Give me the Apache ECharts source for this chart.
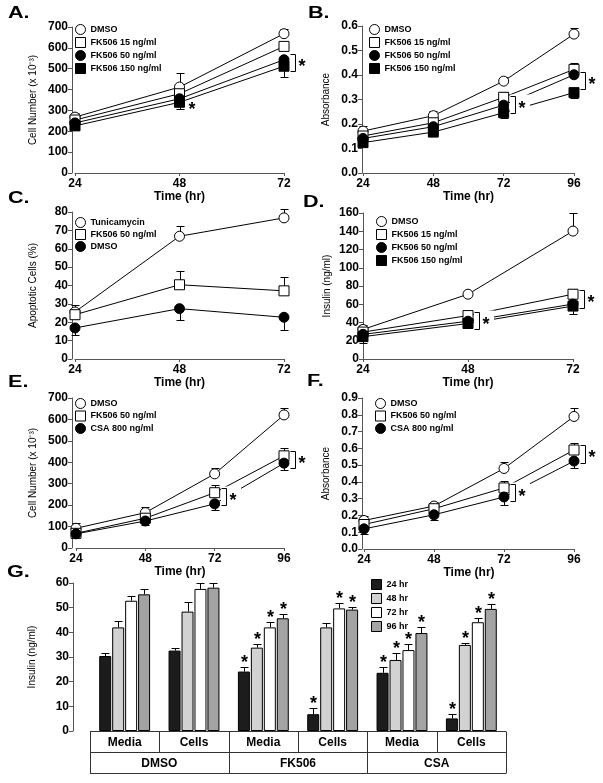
<!DOCTYPE html>
<html><head><meta charset="utf-8">
<script src="https://cdn.jsdelivr.net/npm/echarts@6/dist/echarts.min.js"></script>
<style>html,body{margin:0;padding:0;background:#fff}#c{width:603px;height:783px}</style>
</head><body><div id="c"></div>
<script>
const FONT = '"Liberation Sans", Arial, Helvetica, sans-serif';

// ---------- Panel A: cell number, FK506 doses ----------
const timeA = [24, 48, 72];
const aDmso = [268, 412, 668];
const aDmsoErr = [290, 478, 692];
const aFk15 = [254, 380, 607];
const aFk15Err = [null, null, null];
const aFk50 = [240, 356, 543];
const aFk50Err = [null, null, null];
const aFk150 = [226, 339, 512];
const aFk150Err = [208, 306, 458];
const aBrackets = [[72, 572, 487]];
const aStars = [[48, 321]];

// ---------- Panel B: absorbance, FK506 doses ----------
const timeB = [24, 48, 72, 96];
const bDmso = [0.171, 0.234, 0.375, 0.567];
const bDmsoErr = [0.19, 0.253, 0.392, 0.59];
const bFk15 = [0.151, 0.205, 0.309, 0.423];
const bFk15Err = [null, null, 0.329, 0.448];
const bFk50 = [0.141, 0.189, 0.277, 0.401];
const bFk50Err = [null, null, null, null];
const bFk150 = [0.124, 0.167, 0.246, 0.328];
const bFk150Err = [null, 0.15, 0.223, 0.305];
const bBrackets = [[72, 0.315, 0.244], [96, 0.414, 0.341]];

// ---------- Panel C: apoptotic cells ----------
const timeC = [24, 48, 72];
const cTun = [25.6, 66.8, 76.8];
const cTunErr = [29.5, 72.3, 81.8];
const cFk50 = [24.1, 40.4, 37.1];
const cFk50Err = [null, 47.9, 44.5];
const cDmso = [16.9, 27.4, 22.7];
const cDmsoErr = [13, 21.4, 16];

// ---------- Panel D: insulin, FK506 doses ----------
const timeD = [24, 48, 72];
const dDmso = [32.4, 71, 140.2];
const dDmsoErr = [37.8, 75, 160.4];
const dFk15 = [29.5, 47.6, 71];
const dFk15Err = [null, 53, 76.8];
const dFk50 = [27, 41.4, 60.2];
const dFk50Err = [null, null, null];
const dFk150 = [24.5, 38.9, 58];
const dFk150Err = [17, 35, 49.7];
const dBrackets = [[48, 51, 33], [72, 75.7, 55.9]];

// ---------- Panel E: cell number, FK506 vs CSA ----------
const timeE = [24, 48, 72, 96];
const eDmso = [92, 165, 346, 621];
const eDmsoErr = [118, 193, 372, 653];
const eFk50 = [68.5, 139, 258, 430];
const eFk50Err = [null, null, 294, 466];
const eCsa = [66, 126, 206, 396];
const eCsaErr = [48, 107, 178, 364];
const eBrackets = [[72, 279, 201], [96, 455, 372]];

// ---------- Panel F: absorbance, FK506 vs CSA ----------
const timeF = [24, 48, 72, 96];
const fDmso = [0.17, 0.256, 0.48, 0.79];
const fDmsoErr = [0.196, 0.28, 0.516, 0.84];
const fFk50 = [0.146, 0.24, 0.364, 0.59];
const fFk50Err = [null, null, 0.406, 0.634];
const fCsa = [0.12, 0.204, 0.31, 0.524];
const fCsaErr = [0.09, 0.17, 0.26, 0.48];
const fBrackets = [[72, 0.39, 0.284], [96, 0.62, 0.51]];

// ---------- Panel G: insulin bars ----------
const gCats = ['Media', 'Cells', 'Media', 'Cells', 'Media', 'Cells'];
const gGroups = ['DMSO', 'FK506', 'CSA'];
const gHours = ['24 hr', '48 hr', '72 hr', '96 hr'];
const g24 = [30.4, 32.6, 24.1, 6.8, 23.6, 5.1];
const g24Err = [31.5, 33.6, 25.8, 9.5, 25.8, 6.8];
const g24Star = [0, 0, 1, 1, 1, 1];
const g48 = [42, 48.4, 33.8, 42, 28.8, 34.9];
const g48Err = [44.7, 52.2, 35.1, 43.6, 31.8, 35.8];
const g48Star = [0, 0, 1, 0, 1, 1];
const g72 = [52.8, 57.6, 42, 49.7, 32.8, 44.1];
const g72Err = [54.9, 59.9, 44.3, 52, 35.1, 45.7];
const g72Star = [0, 0, 1, 1, 1, 1];
const g96 = [55.4, 58.1, 45.7, 49.2, 39.7, 49.5];
const g96Err = [57.4, 59.9, 47.6, 50.1, 42, 51.4];
const g96Star = [0, 0, 1, 1, 1, 1];
const gColors = ['#1c1c1c', '#d2d2d2', '#ffffff', '#a3a3a3'];

// ---------- styles ----------
const OC = {symbol: 'circle', color: '#fff'};
const OS = {symbol: 'rect', color: '#fff'};
const FC = {symbol: 'circle', color: '#000'};
const FS = {symbol: 'rect', color: '#000'};
const AX = '#555';

function lineS(panel, gi, label, xs, ys, sty) {
  return {type: 'line', name: panel + '|' + label, xAxisIndex: gi, yAxisIndex: gi,
    data: xs.map((x, i) => [x, ys[i]]), symbol: sty.symbol, symbolSize: 10, showAllSymbol: true,
    lineStyle: {color: '#000', width: 1}, itemStyle: {color: sty.color, borderColor: '#000', borderWidth: 1},
    emphasis: {disabled: true}, z: 3, silent: true, animation: false};
}
function errS(gi, xs, ys, tips) {
  const data = [];
  xs.forEach((x, i) => { if (tips[i] != null) data.push([x, ys[i], tips[i]]); });
  return {type: 'custom', xAxisIndex: gi, yAxisIndex: gi, data, z: 2, silent: true, animation: false,
    encode: {x: 0, y: [1, 2]},
    renderItem: (p, api) => {
      const a = api.coord([api.value(0), api.value(1)]);
      const b = api.coord([api.value(0), api.value(2)]);
      const x = Math.round(a[0]) + 0.5, yb = Math.round(b[1]) + 0.5;
      return {type: 'group', children: [
        {type: 'line', shape: {x1: x, y1: a[1], x2: x, y2: yb}, style: {stroke: '#000', lineWidth: 1}},
        {type: 'line', shape: {x1: x - 4, y1: yb, x2: x + 4, y2: yb}, style: {stroke: '#000', lineWidth: 1}}
      ]};
    }};
}
function bracketS(gi, list) {
  return {type: 'custom', xAxisIndex: gi, yAxisIndex: gi, data: list, z: 4, silent: true, animation: false,
    encode: {x: 0, y: [1, 2]},
    renderItem: (p, api) => {
      const t = api.coord([api.value(0), api.value(1)]);
      const b = api.coord([api.value(0), api.value(2)]);
      const bx = Math.round(t[0]) + 6.5;
      const y1 = Math.round(t[1]) + 0.5, y2 = Math.round(b[1]) + 0.5;
      return {type: 'group', children: [
        {type: 'rect', shape: {x: bx - 0.5, y: y1 - 2, width: 20, height: y2 - y1 + 4}, style: {fill: '#fff'}},
        {type: 'polyline', shape: {points: [[bx, y1], [bx + 5, y1], [bx + 5, y2], [bx, y2]]},
          style: {stroke: '#000', fill: null, lineWidth: 1}},
        {type: 'text', style: {text: '*', x: bx + 8, y: (y1 + y2) / 2 + 4, font: 'bold 18px ' + FONT,
          fill: '#000', verticalAlign: 'middle', align: 'left'}}
      ]};
    }};
}
function starS(gi, list) {
  return {type: 'custom', xAxisIndex: gi, yAxisIndex: gi, data: list, z: 4, silent: true, animation: false,
    encode: {x: 0, y: 1},
    renderItem: (p, api) => {
      const c = api.coord([api.value(0), api.value(1)]);
      return {type: 'text', style: {text: '*', x: c[0] + 9, y: c[1] + 4, font: 'bold 18px ' + FONT,
        fill: '#000', verticalAlign: 'middle', align: 'left'}};
    }};
}

const BAR_W = 12, BAR_GAP = 0.08;
function barS(k, vals) {
  return {type: 'bar', name: 'G|' + gHours[k], xAxisIndex: 6, yAxisIndex: 6, data: vals,
    barWidth: BAR_W, barGap: (BAR_GAP * 100) + '%',
    itemStyle: {color: gColors[k], borderColor: '#000', borderWidth: 1},
    emphasis: {disabled: true}, silent: true, animation: false, z: 2};
}
function gErrS(k, vals, tips, stars) {
  const data = vals.map((v, i) => [i, v, tips[i], stars[i]]);
  return {type: 'custom', xAxisIndex: 6, yAxisIndex: 6, data, z: 3, silent: true, animation: false,
    encode: {x: 0, y: [1, 2]},
    renderItem: (p, api) => {
      const c = api.coord([api.value(0), api.value(1)]);
      const t = api.coord([api.value(0), api.value(2)]);
      const step = BAR_W * (1 + BAR_GAP);
      const x = Math.round(c[0] + (k - 1.5) * step) + 0.5;
      const yt = Math.round(t[1]) + 0.5;
      const ch = [
        {type: 'line', shape: {x1: x, y1: c[1], x2: x, y2: yt}, style: {stroke: '#000', lineWidth: 1}},
        {type: 'line', shape: {x1: x - 4, y1: yt, x2: x + 4, y2: yt}, style: {stroke: '#000', lineWidth: 1}}
      ];
      if (api.value(3)) ch.push({type: 'text', style: {text: '*', x: x, y: yt - 4, font: 'bold 18px ' + FONT,
        fill: '#000', verticalAlign: 'middle', align: 'center'}});
      return {type: 'group', children: ch};
    }};
}

function legendC(names, stys, left, top, gap) {
  return {orient: 'vertical', left, top, itemWidth: 10, itemHeight: 10, itemGap: gap, selectedMode: false,
    padding: 0,
    data: names.map((n, i) => ({name: n, icon: stys[i].symbol === 'circle' ? 'circle' : 'rect',
      itemStyle: {color: stys[i].color, borderColor: '#000', borderWidth: 1}})),
    formatter: n => n.split('|')[1],
    textStyle: {fontFamily: FONT, fontWeight: 'bold', fontSize: 9, color: '#000'}};
}

function yAx(gi, max, interval, name, nameGap, offset, fmt) {
  return {type: 'value', gridIndex: gi, min: 0, max, interval, offset, name, nameLocation: 'middle', nameGap,
    nameTextStyle: {fontFamily: FONT, fontSize: 10, color: '#000'},
    axisLine: {show: true, onZero: false, lineStyle: {color: AX}},
    axisTick: {show: true, length: 4, lineStyle: {color: AX}},
    axisLabel: {fontFamily: FONT, fontWeight: 'bold', fontSize: 12, color: '#000', margin: 4, formatter: fmt},
    splitLine: {show: false}};
}
function xAx(gi, max, nameGap) {
  return {type: 'value', gridIndex: gi, min: 24, max, interval: 24, name: 'Time (hr)', nameLocation: 'middle',
    nameGap, nameTextStyle: {fontFamily: FONT, fontWeight: 'bold', fontSize: 12, color: '#000'},
    axisLine: {show: true, onZero: false, lineStyle: {color: AX}},
    axisTick: {show: true, length: 3, lineStyle: {color: AX}},
    axisLabel: {fontFamily: FONT, fontWeight: 'bold', fontSize: 12, color: '#000', margin: 5},
    splitLine: {show: false}};
}

const cellName = 'Cell Number (x 10\u207B\u00B3)';
const f1 = v => v.toFixed(1);

const grids = [
  {left: 75, right: 319, top: 27, bottom: 610},
  {left: 363, right: 29, top: 26, bottom: 610},
  {left: 75, right: 319, top: 212, bottom: 424},
  {left: 363, right: 30, top: 213, bottom: 424},
  {left: 76, right: 319, top: 398, bottom: 235},
  {left: 364, right: 29, top: 398, bottom: 234},
  {left: 90, right: 97, top: 583, bottom: 52}
];

const xAxes = [
  xAx(0, 72, 18), xAx(1, 96, 18), xAx(2, 72, 17), xAx(3, 72, 18), xAx(4, 96, 17), xAx(5, 96, 10),
  {type: 'category', gridIndex: 6, data: gCats.map((c, i) => gGroups[Math.floor(i / 2)] + ' ' + c),
    axisLine: {show: false}, axisTick: {show: false}, axisLabel: {show: false}}
];
const yAxes = [
  yAx(0, 700, 100, cellName, 34, 3),
  yAx(1, 0.6, 0.1, 'Absorbance', 31, 1, f1),
  yAx(2, 80, 10, 'Apoptotic Cells (%)', 34, 3),
  yAx(3, 160, 20, 'Insulin (ng/ml)', 31, 0),
  yAx(4, 700, 100, cellName, 34, 4),
  yAx(5, 0.9, 0.1, 'Absorbance', 31, 2, f1),
  yAx(6, 60, 10, 'Insulin (ng/ml)', 36, 17)
];

const series = [
  errS(0, timeA, aDmso, aDmsoErr), errS(0, timeA, aFk15, aFk15Err), errS(0, timeA, aFk50, aFk50Err), errS(0, timeA, aFk150, aFk150Err),
  lineS('A', 0, 'DMSO', timeA, aDmso, OC), lineS('A', 0, 'FK506 15 ng/ml', timeA, aFk15, OS),
  lineS('A', 0, 'FK506 50 ng/ml', timeA, aFk50, FC), lineS('A', 0, 'FK506 150 ng/ml', timeA, aFk150, FS),
  bracketS(0, aBrackets), starS(0, aStars),

  errS(1, timeB, bDmso, bDmsoErr), errS(1, timeB, bFk15, bFk15Err), errS(1, timeB, bFk50, bFk50Err), errS(1, timeB, bFk150, bFk150Err),
  lineS('B', 1, 'DMSO', timeB, bDmso, OC), lineS('B', 1, 'FK506 15 ng/ml', timeB, bFk15, OS),
  lineS('B', 1, 'FK506 50 ng/ml', timeB, bFk50, FC), lineS('B', 1, 'FK506 150 ng/ml', timeB, bFk150, FS),
  bracketS(1, bBrackets),

  errS(2, timeC, cTun, cTunErr), errS(2, timeC, cFk50, cFk50Err), errS(2, timeC, cDmso, cDmsoErr),
  lineS('C', 2, 'Tunicamycin', timeC, cTun, OC), lineS('C', 2, 'FK506 50 ng/ml', timeC, cFk50, OS),
  lineS('C', 2, 'DMSO', timeC, cDmso, FC),

  errS(3, timeD, dDmso, dDmsoErr), errS(3, timeD, dFk15, dFk15Err), errS(3, timeD, dFk50, dFk50Err), errS(3, timeD, dFk150, dFk150Err),
  lineS('D', 3, 'DMSO', timeD, dDmso, OC), lineS('D', 3, 'FK506 15 ng/ml', timeD, dFk15, OS),
  lineS('D', 3, 'FK506 50 ng/ml', timeD, dFk50, FC), lineS('D', 3, 'FK506 150 ng/ml', timeD, dFk150, FS),
  bracketS(3, dBrackets),

  errS(4, timeE, eDmso, eDmsoErr), errS(4, timeE, eFk50, eFk50Err), errS(4, timeE, eCsa, eCsaErr),
  lineS('E', 4, 'DMSO', timeE, eDmso, OC), lineS('E', 4, 'FK506 50 ng/ml', timeE, eFk50, OS),
  lineS('E', 4, 'CSA 800 ng/ml', timeE, eCsa, FC),
  bracketS(4, eBrackets),

  errS(5, timeF, fDmso, fDmsoErr), errS(5, timeF, fFk50, fFk50Err), errS(5, timeF, fCsa, fCsaErr),
  lineS('F', 5, 'DMSO', timeF, fDmso, OC), lineS('F', 5, 'FK506 50 ng/ml', timeF, fFk50, OS),
  lineS('F', 5, 'CSA 800 ng/ml', timeF, fCsa, FC),
  bracketS(5, fBrackets),

  barS(0, g24), barS(1, g48), barS(2, g72), barS(3, g96),
  gErrS(0, g24, g24Err, g24Star), gErrS(1, g48, g48Err, g48Star), gErrS(2, g72, g72Err, g72Star), gErrS(3, g96, g96Err, g96Star)
];

const legends = [
  legendC(['A|DMSO', 'A|FK506 15 ng/ml', 'A|FK506 50 ng/ml', 'A|FK506 150 ng/ml'], [OC, OS, FC, FS], 75, 24, 2),
  legendC(['B|DMSO', 'B|FK506 15 ng/ml', 'B|FK506 50 ng/ml', 'B|FK506 150 ng/ml'], [OC, OS, FC, FS], 369, 24, 2),
  legendC(['C|Tunicamycin', 'C|FK506 50 ng/ml', 'C|DMSO'], [OC, OS, FC], 75, 217, 1),
  legendC(['D|DMSO', 'D|FK506 15 ng/ml', 'D|FK506 50 ng/ml', 'D|FK506 150 ng/ml'], [OC, OS, FC, FS], 376, 216, 2),
  legendC(['E|DMSO', 'E|FK506 50 ng/ml', 'E|CSA 800 ng/ml'], [OC, OS, FC], 75, 398, 1.5),
  legendC(['F|DMSO', 'F|FK506 50 ng/ml', 'F|CSA 800 ng/ml'], [OC, OS, FC], 375, 398, 1.5),
  legendC(gHours.map(h => 'G|' + h), gColors.map(c => ({symbol: 'rect', color: c})), 371, 579, 3)
];

// ---------- graphic: panel letters and the G category table ----------
const graphic = [];
const letters = [['A.', 8, 6], ['B.', 308, 6], ['C.', 8, 191], ['D.', 303, 195], ['E.', 8, 375], ['F.', 307, 374], ['G.', 7, 565]];
letters.forEach(([t, x, y]) => graphic.push({type: 'text', x, y, scaleX: 1.35, silent: true,
  style: {text: t, font: 'bold 16px ' + FONT, fill: '#000'}}));

const gLeft = grids[6].left, gRight = 603 - grids[6].right, gTopRow = 783 - grids[6].bottom, rowH = 21;
const band = (gRight - gLeft) / gCats.length;
const TC = '#333';
function hline(x1, x2, y) { return {type: 'line', silent: true, shape: {x1, y1: y, x2, y2: y}, style: {stroke: TC, lineWidth: 1}}; }
function vline(x, y1, y2) { return {type: 'line', silent: true, shape: {x1: x, y1, x2: x, y2}, style: {stroke: TC, lineWidth: 1}}; }
const r0 = gTopRow + 0.5, r1 = gTopRow + rowH + 0.5, r2 = gTopRow + 2 * rowH + 0.5;
graphic.push(hline(gLeft, gRight, r0), hline(gLeft, gRight, r1), hline(gLeft, gRight, r2));
for (let i = 0; i <= gCats.length; i++) {
  const x = Math.round(gLeft + i * band) + 0.5;
  graphic.push(vline(x, r0, (i % 2 === 0) ? r2 : r1));
}
gCats.forEach((c, i) => graphic.push({type: 'text', silent: true, x: gLeft + (i + 0.5) * band, y: gTopRow + rowH / 2 + 1,
  style: {text: c, font: 'bold 12px ' + FONT, fill: '#000', align: 'center', verticalAlign: 'middle'}}));
gGroups.forEach((g, i) => graphic.push({type: 'text', silent: true, x: gLeft + (2 * i + 1) * band, y: gTopRow + rowH * 1.5 + 1,
  style: {text: g, font: 'bold 12px ' + FONT, fill: '#000', align: 'center', verticalAlign: 'middle'}}));

const chart = echarts.init(document.getElementById('c'), null, {renderer: 'canvas'});
chart.setOption({
  animation: false,
  backgroundColor: '#fff',
  grid: grids,
  xAxis: xAxes,
  yAxis: yAxes,
  legend: legends,
  series,
  graphic
});
</script>
</body></html>
